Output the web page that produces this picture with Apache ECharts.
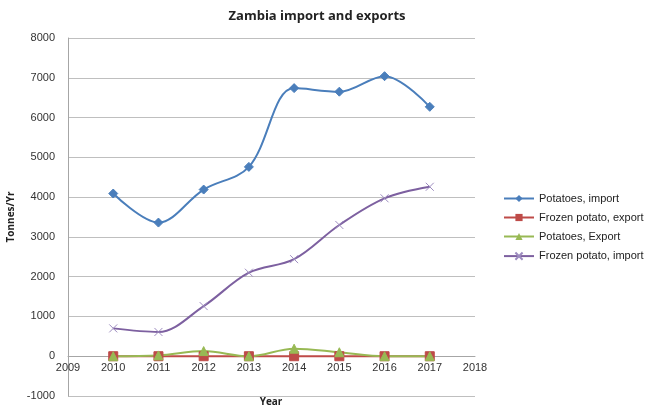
<!DOCTYPE html>
<html><head><meta charset="utf-8">
<script src="https://cdn.jsdelivr.net/npm/echarts@6/dist/echarts.min.js"></script>
<style>html,body{margin:0;padding:0;background:#fff}#c{width:647px;height:410px}</style>
</head><body><div id="c"></div>
<script>
const years = [2010, 2011, 2012, 2013, 2014, 2015, 2016, 2017];
const potatoesImport = [4090, 3360, 4190, 4760, 6740, 6650, 7040, 6270];
const frozenExport = [0, 0, 0, 0, 0, 0, 0, 0];
const potatoesExport = [0, 20, 130, 0, 190, 100, 0, 0];
const frozenImport = [700, 610, 1260, 2100, 2440, 3300, 3970, 4260];
const seriesNames = ['Potatoes, import', 'Frozen potato, export', 'Potatoes, Export', 'Frozen potato, import'];
const yMin = -1000, yMax = 8000;

const crossPath = 'path://M0,0L10,10M10,0L0,10';
function pairs(v){ return years.map((y,i)=>[y, v[i]]); }
function mk(name, data, color, symbol, size, extra){
  return Object.assign({
    name, type:'line', data: pairs(data), smooth:0.35,
    symbol, symbolSize:size, showSymbol:true,
    lineStyle:{color, width:2}, itemStyle:{color, borderColor:color},
    emphasis:{disabled:true}
  }, extra||{});
}
const gridTop = 38, gridBottom = 14, H = 410;
const plotH = H - gridTop - gridBottom;
const zeroOffset = plotH * (0 - yMin) / (yMax - yMin);
const chart = echarts.init(document.getElementById('c'), null, {renderer:'canvas'});
chart.setOption({
  animation:false,
  title:[
    {text:'Zambia import and exports', left:312, textAlign:'center', top:5,
      textStyle:{fontFamily:'Open Sans', fontSize:13, fontWeight:'bold', color:'#222'}},
    {text:'Year', left:271, textAlign:'center', top:397, padding:0,
      textStyle:{fontFamily:'Open Sans', fontSize:10, fontWeight:'bold', color:'#222'}}
  ],
  grid:{left:68, top:gridTop, right:172, bottom:gridBottom, containLabel:false, outerBoundsMode:'none'},
  legend:{orient:'vertical', left:498, top:188, itemGap:8, itemWidth:30, itemHeight:9,
    textStyle:{fontFamily:'Liberation Sans', fontSize:11, color:'#222'},
    data: seriesNames},
  xAxis:{type:'value', min:2009, max:2018, interval:1, position:'bottom', offset:-zeroOffset,
    axisLine:{show:true, onZero:false, lineStyle:{color:'#a6a6a6'}},
    axisTick:{show:false},
    axisLabel:{fontFamily:'Liberation Sans', fontSize:11, color:'#333', margin:6, formatter:v=>String(v)},
    splitLine:{show:false}},
  yAxis:{type:'value', min:yMin, max:yMax, interval:1000,
    name:'Tonnes/Yr', nameLocation:'middle', nameGap:50, nameRotate:90,
    nameTextStyle:{fontFamily:'Open Sans', fontSize:10, fontWeight:'bold', color:'#222'},
    axisLine:{show:true, lineStyle:{color:'#a6a6a6'}},
    axisTick:{show:false},
    axisLabel:{fontFamily:'Liberation Sans', fontSize:11, color:'#333', margin:13, formatter:v=>String(v)},
    splitLine:{show:true, lineStyle:{color:'#bfbfbf', width:1}}},
  series:[
    mk(seriesNames[0], potatoesImport, '#4a7ebb', 'diamond', 9),
    mk(seriesNames[1], frozenExport, '#be4b48', 'rect', 9),
    mk(seriesNames[2], potatoesExport, '#98b954', 'triangle', 9),
    mk(seriesNames[3], frozenImport, '#7d60a0', crossPath, 8,
      {itemStyle:{color:'none', borderColor:'#9d8cbf', borderWidth:1}})
  ]
});
</script></body></html>
